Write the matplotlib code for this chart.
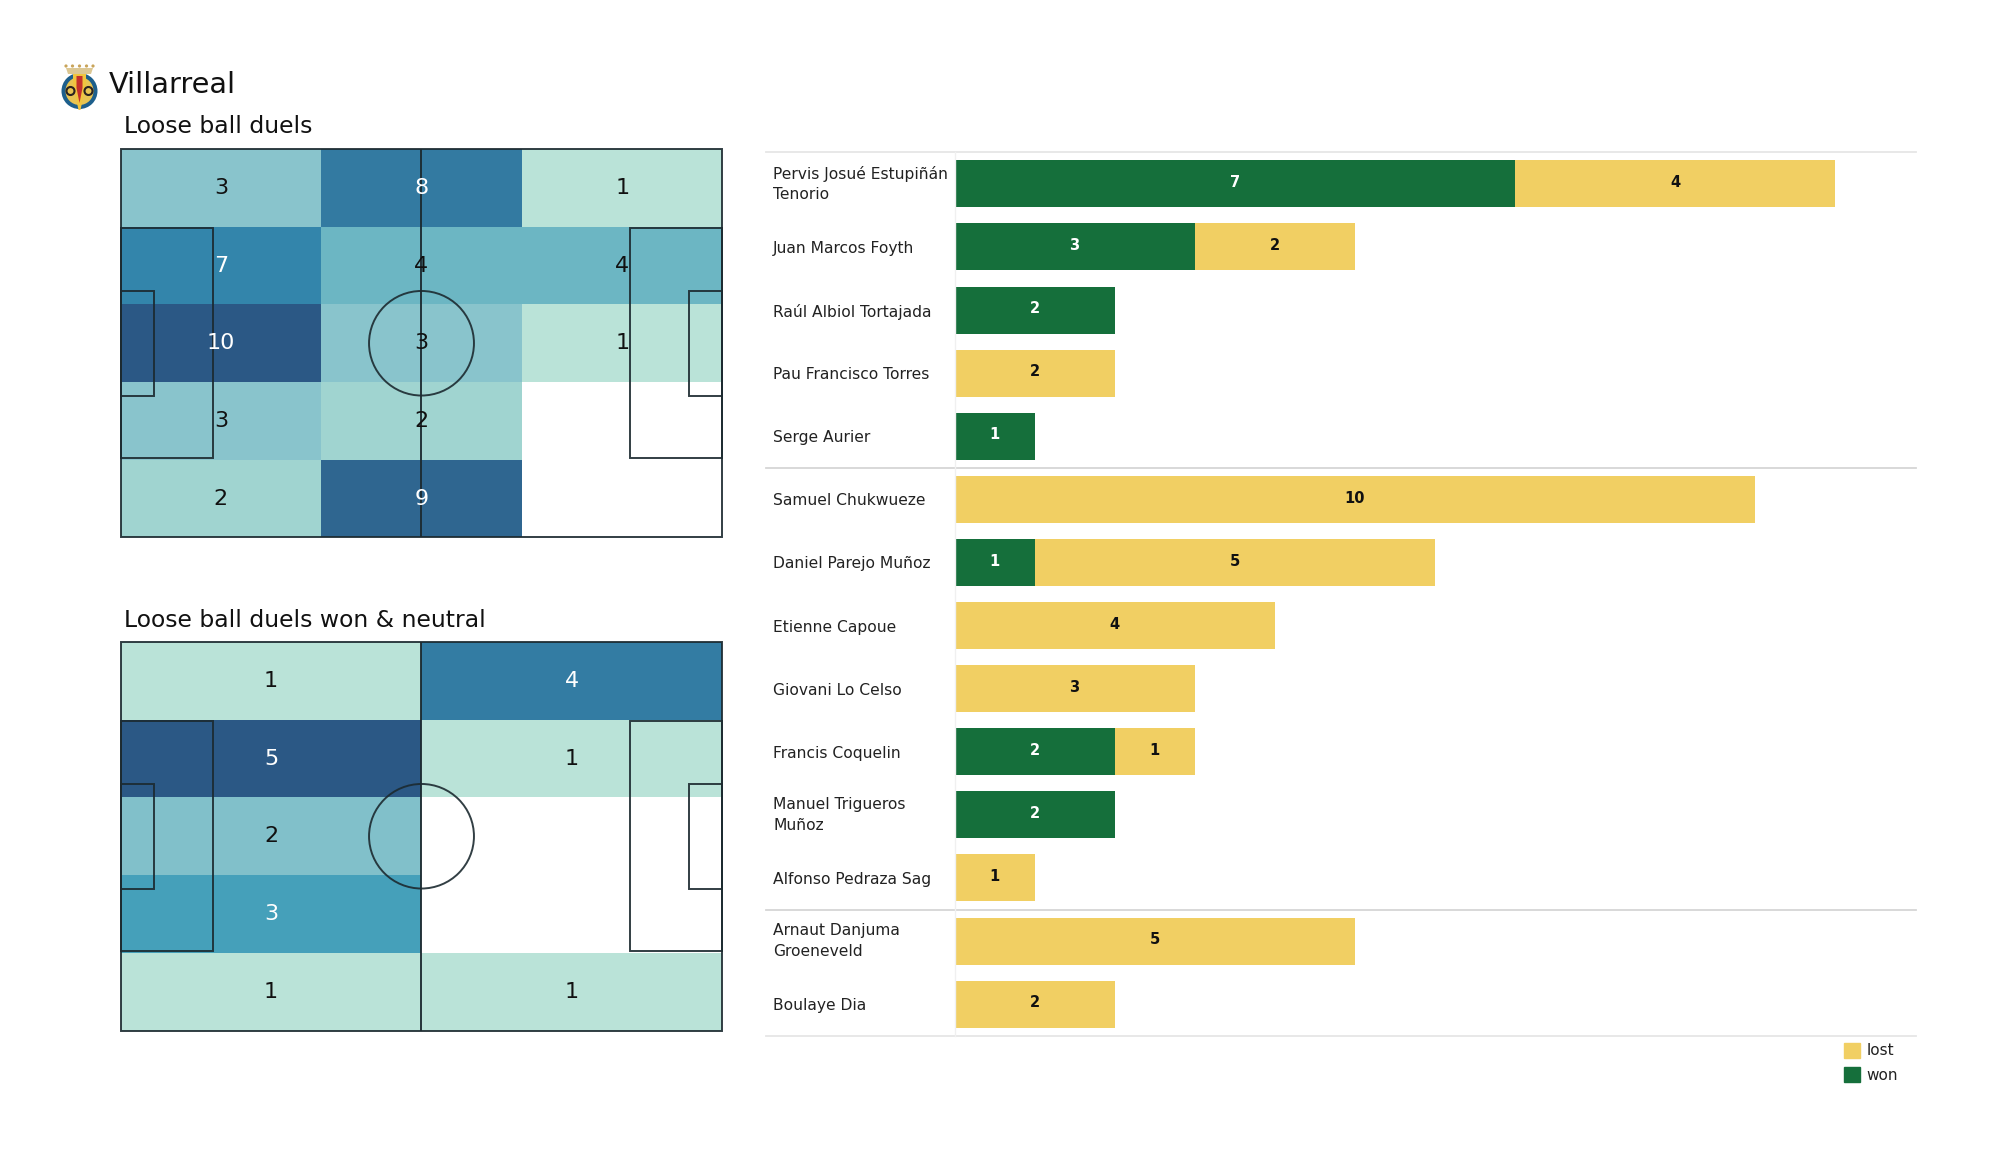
import numpy as np
import matplotlib
matplotlib.use("Agg")
import matplotlib.pyplot as plt
from matplotlib.colors import LinearSegmentedColormap, Normalize
from matplotlib.patches import Rectangle, Circle, Polygon, Patch, Ellipse

team = "Villarreal"
title_all = "Loose ball duels"
title_won = "Loose ball duels won & neutral"

duels_all = [[3, 8, 1], [7, 4, 4], [10, 3, 1], [3, 2, 0], [2, 9, 0]]
duels_won = [[1, 4], [5, 1], [2, 0], [3, 0], [1, 1]]

players = ["Pervis Josué Estupiñán\nTenorio", "Juan Marcos Foyth", "Raúl Albiol Tortajada",
           "Pau Francisco Torres", "Serge Aurier", "Samuel Chukwueze", "Daniel Parejo Muñoz",
           "Etienne Capoue", "Giovani Lo Celso", "Francis Coquelin", "Manuel Trigueros\nMuñoz",
           "Alfonso Pedraza Sag", "Arnaut Danjuma\nGroeneveld", "Boulaye Dia"]
won = [7, 3, 2, 0, 1, 0, 1, 0, 0, 2, 2, 0, 0, 0]
lost = [4, 2, 0, 2, 0, 10, 5, 4, 3, 1, 0, 1, 5, 2]
group_breaks = [4.5, 11.5]

W, H = 2000, 1175
GREEN, YELLOW = "#156F3B", "#F1CF63"
LINE = "#1c2a30"
cmap = LinearSegmentedColormap.from_list("duels", [
    (0, "#BAE3D8"), (1/9, "#A0D4D0"), (2/9, "#88C4CC"), (3/9, "#6CB6C3"),
    (0.5, "#45A0BA"), (6/9, "#3385AB"), (7/9, "#337AA1"), (8/9, "#2F6690"), (1, "#2B5885")])

fig = plt.figure(figsize=(20, 11.75), dpi=100)


def px_axes(x0, y0, x1, y1, **kw):
    return fig.add_axes([x0 / W, 1 - y1 / H, (x1 - x0) / W, (y1 - y0) / H], **kw)


def pitch(box, grid):
    ax = px_axes(*box)
    grid = np.array(grid, dtype=float)
    rows, cols = grid.shape
    xe = np.linspace(0, 105, cols + 1)
    ye = np.linspace(0, 68, rows + 1)
    norm = Normalize(1, grid.max())
    ax.pcolormesh(xe, ye, np.ma.masked_equal(grid, 0), cmap=cmap, norm=norm, linewidth=0, rasterized=True)
    ax.set_xlim(0, 105)
    ax.set_ylim(68, 0)
    ax.axis("off")
    style = dict(fill=False, ec=LINE, lw=1.4, alpha=0.9, zorder=3, clip_on=False)
    ax.add_patch(Rectangle((0, 0), 105, 68, **style))
    ax.plot([52.5, 52.5], [0, 68], color=LINE, lw=1.4, alpha=0.95, zorder=3)
    ax.add_patch(Rectangle((0, 13.84), 16.1, 40.32, **style))
    ax.add_patch(Rectangle((88.9, 13.84), 16.1, 40.32, **style))
    ax.add_patch(Rectangle((0, 24.84), 5.8, 18.32, **style))
    ax.add_patch(Rectangle((99.2, 24.84), 5.8, 18.32, **style))
    ax.add_patch(Ellipse((52.5, 34), 18.3, 18.3, **style))
    for r in range(rows):
        for c in range(cols):
            v = grid[r, c]
            if v > 0:
                ax.text((xe[c] + xe[c + 1]) / 2, (ye[r] + ye[r + 1]) / 2, f"{int(v)}",
                        ha="center", va="center", fontsize=16, zorder=4,
                        color="white" if norm(v) >= 0.5 else "#111111")


pitch((120.5, 149, 722.5, 537.5), duels_all)
pitch((120.5, 642, 722.5, 1030.5), duels_won)

fig.text(109 / W, 1 - 93 / H, team, fontsize=20.7, color="#111111", va="baseline")
fig.text(124 / W, 1 - 133 / H, title_all, fontsize=16.9, color="#111111", va="baseline")
fig.text(124 / W, 1 - 627 / H, title_won, fontsize=16.9, color="#111111", va="baseline")

# bars
ax = px_axes(954.5, 152.3, 1915.5, 1035.7)
y = np.arange(len(players))
won_a, lost_a = np.array(won), np.array(lost)
ax.barh(y, won_a, height=0.745, color=GREEN, linewidth=0)
ax.barh(y, lost_a, left=won_a, height=0.745, color=YELLOW, linewidth=0)
for i in y:
    if won_a[i]:
        ax.text(won_a[i] / 2, i - 0.02, str(won_a[i]), ha="center", va="center",
                color="white", fontweight="bold", fontsize=10.5)
    if lost_a[i]:
        ax.text(won_a[i] + lost_a[i] / 2, i - 0.02, str(lost_a[i]), ha="center", va="center",
                color="#111111", fontweight="bold", fontsize=10.5)
ax.set_xlim(0, 12)
ax.set_ylim(13.5, -0.5)
ax.set_xticks([])
ax.set_yticks(y)
ax.set_yticklabels(players, fontsize=11.15, ha="left", color="#222222", linespacing=1.45)
ax.tick_params(axis="y", length=0, pad=130.5)
for lbl in ax.get_yticklabels():
    if "\n" in lbl.get_text():
        lbl.set_va("center")
for s in ("top", "right", "bottom"):
    ax.spines[s].set_visible(False)
ax.spines["left"].set_color("#f0f0f0")
ax.spines["left"].set_linewidth(1)
sep_x0 = (766 - 954.5) / 961
for b in [-0.5] + group_breaks + [13.5]:
    col = "#e6e6e6" if b in (-0.5, 13.5) else "#d6d6d6"
    ax.plot([sep_x0, 1], [b, b], transform=ax.get_yaxis_transform(), color=col, lw=1.3, clip_on=False)

handles = [Patch(color=YELLOW, label="lost"), Patch(color=GREEN, label="won")]
fig.legend(handles=handles, loc="upper left", bbox_to_anchor=(1839.5 / W, 1 - 1038 / H), frameon=False,
           fontsize=11, handlelength=1.05, handleheight=1.15, handletextpad=0.42, labelspacing=0.55,
           borderpad=0.3, borderaxespad=0, labelcolor="#222222")

# crest
cr = px_axes(55, 58, 105, 115)
cr.set_xlim(55, 105)
cr.set_ylim(115, 58)
cr.axis("off")
cr.add_patch(Circle((79.5, 91), 18, fc="#1d5f8c", ec="none"))
cr.add_patch(Circle((79.5, 91), 14, fc="#e8c452", ec="none"))
cr.add_patch(Polygon([[73, 74], [86, 74], [86, 84], [80.5, 110], [78.5, 110], [73, 84]], fc="#f0c53f", ec="none"))
cr.add_patch(Polygon([[76.5, 76], [82.5, 76], [82.5, 88], [79.5, 103], [76.5, 88]], fc="#c4312b", ec="none"))
cr.add_patch(Circle((70.5, 91), 4, fc="#e8c452", ec="#2b2320", lw=1.5))
cr.add_patch(Circle((88.5, 91), 4, fc="#e8c452", ec="#2b2320", lw=1.5))
cr.add_patch(Polygon([[68, 74], [91, 74], [93, 68], [66, 68]], fc="#dcc793", ec="none"))
for cx in (66, 72.5, 79.5, 86.5, 93):
    cr.add_patch(Circle((cx, 66), 1.6, fc="#c9a45a", ec="none"))

fig.savefig("out.png", dpi=100, facecolor="white")
